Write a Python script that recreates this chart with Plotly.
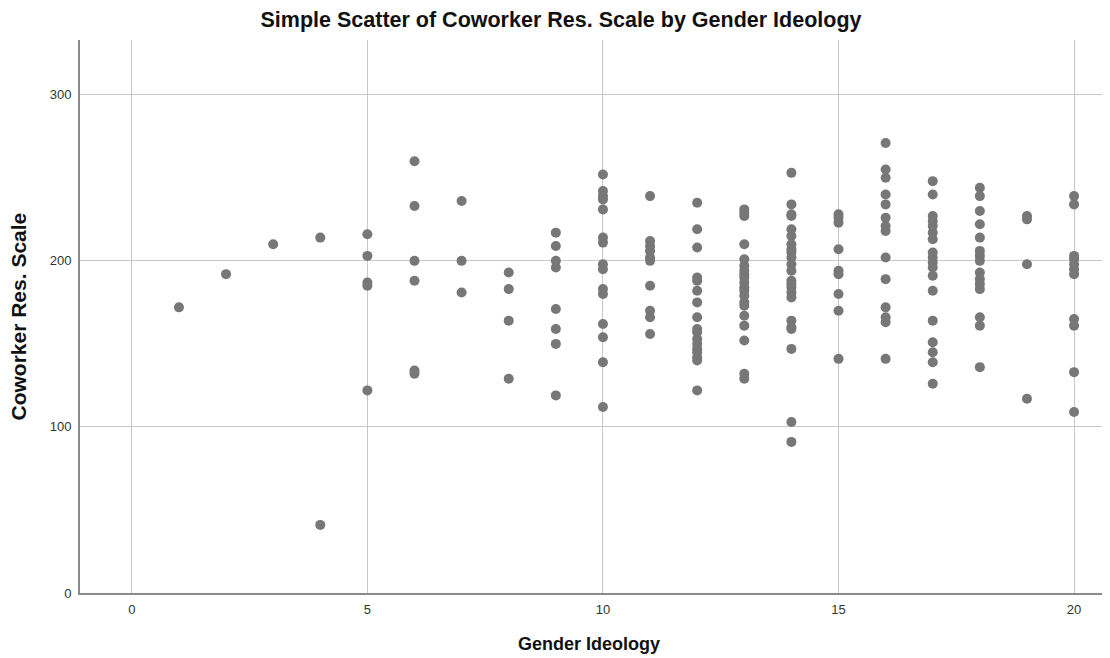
import plotly.graph_objects as go

# Gender Ideology score -> Coworker Res. Scale values
gi_values = {
    1: [172],
    2: [192],
    3: [210],
    4: [214, 41],
    5: [216, 203, 187, 185, 122],
    6: [260, 233, 200, 188, 134, 132],
    7: [236, 200, 181],
    8: [193, 183, 164, 129],
    9: [217, 209, 200, 196, 171, 159, 150, 119],
    10: [252, 242, 239, 237, 231, 214, 211, 198, 195, 183, 180, 162, 154, 139, 112],
    11: [239, 212, 209, 206, 202, 200, 185, 170, 166, 156],
    12: [235, 219, 208, 190, 188, 182, 175, 166, 159, 157, 153, 150, 147, 145, 142, 140, 122],
    13: [231, 229, 227, 210, 201, 197, 194, 192, 190, 187, 184, 182, 179, 175, 173, 167, 161, 152, 132, 129],
    14: [253, 234, 228, 227, 219, 215, 210, 207, 205, 202, 198, 194, 188, 186, 184, 181, 178, 164, 160, 159, 147, 103, 91],
    15: [228, 226, 223, 207, 194, 192, 180, 170, 141],
    16: [271, 255, 250, 240, 234, 226, 221, 218, 202, 189, 172, 166, 163, 141],
    17: [248, 240, 227, 224, 221, 217, 213, 205, 202, 199, 196, 191, 182, 164, 151, 145, 139, 126],
    18: [244, 239, 230, 222, 214, 206, 203, 200, 193, 189, 186, 183, 166, 161, 136],
    19: [227, 225, 198, 117],
    20: [239, 234, 203, 201, 198, 195, 192, 165, 161, 133, 109],
}

x_ticks = [0, 5, 10, 15, 20]
y_ticks = [0, 100, 200, 300]

title_text = "Simple Scatter of Coworker Res. Scale by Gender Ideology"
x_title = "Gender Ideology"
y_title = "Coworker Res. Scale"

xs, ys = [], []
for g, vals in gi_values.items():
    for v in vals:
        xs.append(g)
        ys.append(v)

fig = go.Figure()
fig.add_trace(go.Scatter(
    x=xs, y=ys, mode="markers",
    marker=dict(size=10, color="#777777", line=dict(width=0)),
    showlegend=False,
))

# the page body adds an 8px offset, so the figure is 8px smaller than the window
W, H = 1102, 650
font_family = "Liberation Sans, Arial, sans-serif"
fig.update_layout(
    width=W, height=H,
    margin=dict(l=72, r=2, t=32, b=65),
    paper_bgcolor="white", plot_bgcolor="white",
    font=dict(family=font_family, color="#222222"),
    title=dict(text="<b>" + title_text + "</b>",
               xref="container", x=(561 - 8) / W, xanchor="center",
               yref="container", y=1 - 11 / H, yanchor="middle",
               font=dict(size=21.5, color="#111111")),
    annotations=[
        dict(text="<b>" + x_title + "</b>", xref="paper", yref="paper",
             x=(589 - 80) / 1028, y=-(644 - 593) / 553, xanchor="center", yanchor="middle",
             showarrow=False, font=dict(size=18, color="#111111")),
        dict(text="<b>" + y_title + "</b>", xref="paper", yref="paper",
             x=(18 - 80) / 1028, y=0.5, xanchor="center", yanchor="middle",
             textangle=-90, showarrow=False, font=dict(size=21, color="#111111")),
    ],
)
fig.update_xaxes(
    range=[-1.1, 20.72], tickvals=x_ticks, ticktext=[str(t) for t in x_ticks],
    showgrid=True, gridcolor="#c8c8c8", gridwidth=1,
    showline=True, linecolor="#8a8a8a", linewidth=2,
    zeroline=False, ticks="outside", ticklen=3, tickcolor="rgba(0,0,0,0)",
    tickfont=dict(size=13, color="#333333"),
    automargin=False,
)
fig.update_yaxes(
    range=[0, 333], tickvals=y_ticks, ticktext=[str(t) for t in y_ticks],
    showgrid=True, gridcolor="#c8c8c8", gridwidth=1,
    showline=True, linecolor="#8a8a8a", linewidth=2,
    zeroline=False, ticks="outside", ticklen=4, tickcolor="rgba(0,0,0,0)",
    tickfont=dict(size=13, color="#333333"),
    automargin=False,
)

fig.write_html("out.html")
